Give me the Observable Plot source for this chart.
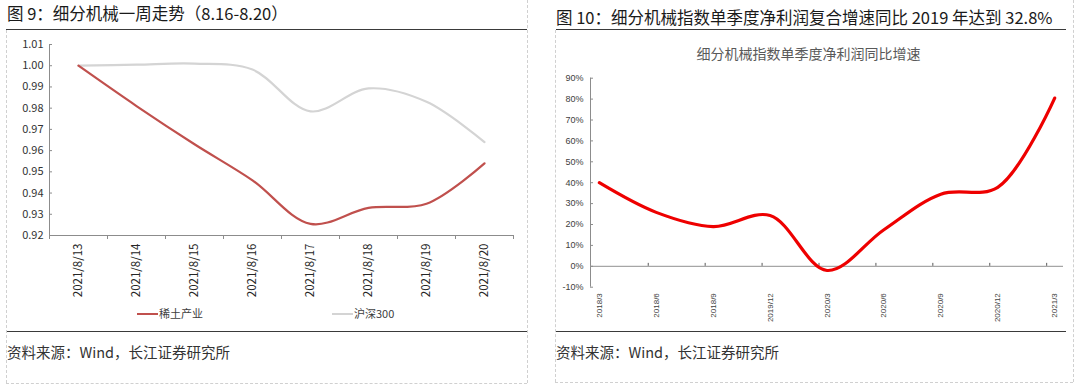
<!DOCTYPE html>
<html><head><meta charset="utf-8">
<script src="https://cdn.jsdelivr.net/npm/d3@7"></script>
<script src="https://cdn.jsdelivr.net/npm/@observablehq/plot@0.6"></script>
<style>
body{margin:0;width:1080px;height:385px;background:#fff;position:relative;overflow:hidden;font-family:"Noto Sans CJK SC","Noto Sans",sans-serif;}
.abs{position:absolute;}
.title{font-size:16.5px;color:#1a1a1a;white-space:nowrap;line-height:1;}
.rule{height:0;border-top:1.5px solid #3a3a3a;}
.vd{width:0;border-left:1px dashed #d0d0d0;}
.hd{height:0;border-top:1px dashed #d0d0d0;}
.src{font-size:14.5px;color:#333;white-space:nowrap;line-height:1;}
.leg{font-size:11px;color:#404040;white-space:nowrap;line-height:1;}
.sw{height:0;border-top:2px solid;}
svg{overflow:visible;}
</style></head><body>
<script>
// ---- Figure 9 data ----
const dates9 = ["2021/8/13","2021/8/14","2021/8/15","2021/8/16","2021/8/17","2021/8/18","2021/8/19","2021/8/20"];
const rareEarth = [1.000, 0.981, 0.963, 0.946, 0.9255, 0.933, 0.935, 0.954];
const hs300 = [1.000, 1.0005, 1.001, 0.9982, 0.9785, 0.9893, 0.983, 0.964];
const seriesNames9 = ["稀土产业", "沪深300"];
const yTicks9 = [0.92,0.93,0.94,0.95,0.96,0.97,0.98,0.99,1.00,1.01];

// ---- Figure 10 data ----
const quarters10 = ["2018/3","2018/6","2018/9","2019/12","2020/3","2020/6","2020/9","2020/12","2021/3"];
const profitGrowth = [40, 25.8, 19, 24.3, -2, 17.5, 34.5, 37.8, 80.5];
const yTicks10 = [-10,0,10,20,30,40,50,60,70,80,90];

const C_RED9 = "#c0504d", C_GRAY9 = "#d4d4d4", C_RED10 = "#ee0000";

function el(cls, css, html){const d=document.createElement("div");d.className="abs "+cls;Object.assign(d.style,css);if(html!=null)d.innerHTML=html;document.body.appendChild(d);return d;}

// ---------- Figure 9 ----------
el("title",{left:"7px",top:"5px"},"图 9：细分机械一周走势（8.16-8.20）");
el("rule",{left:"6px",top:"29px",width:"521px"});
el("rule",{left:"6px",top:"331px",width:"521px"});
el("src",{left:"7px",top:"345px"},"资料来源：Wind，长江证券研究所");
el("vd",{left:"6px",top:"30px",height:"353px"});
el("vd",{left:"527px",top:"0px",height:"383px"});
el("hd",{left:"6px",top:"383px",width:"521px"});

const idx9 = dates9.map((d,i)=>i);
const rows9 = [];
idx9.forEach(i=>rows9.push({i, v: rareEarth[i], s: seriesNames9[0]}));
idx9.forEach(i=>rows9.push({i, v: hs300[i], s: seriesNames9[1]}));
const xDom9 = [-0.5, dates9.length - 0.5];
const bounds9 = d3.range(xDom9[0], xDom9[1] + 0.01, 1);

const p9 = Plot.plot({
  width: 530, height: 270,
  marginLeft: 49, marginRight: 17, marginTop: 14, marginBottom: 65,
  style: {fontFamily: '"Noto Sans CJK SC","Noto Sans",sans-serif', background: "transparent"},
  x: {type: "linear", domain: xDom9},
  y: {domain: [yTicks9[0], yTicks9[yTicks9.length-1]]},
  marks: [
    Plot.ruleY([yTicks9[0]], {stroke: "#8c8c8c", strokeWidth: 1}),
    Plot.ruleX([xDom9[0]], {stroke: "#8c8c8c", strokeWidth: 1}),
    Plot.axisY({ticks: yTicks9, tickFormat: d3.format(".2f"), tickSize: -3, tickPadding: 9, fontSize: 11, fill: "#333", stroke: "#8c8c8c", label: null}),
    Plot.axisX({ticks: bounds9, tickSize: 4, text: null, stroke: "#8c8c8c", label: null}),
    Plot.axisX({ticks: idx9, tickSize: 0, tickPadding: 8, tickRotate: -90, tickFormat: i => dates9[i], fontSize: 11.5, fill: "#262626", label: null}),
    Plot.line(rows9.filter(d=>d.s===seriesNames9[1]), {x: "i", y: "v", stroke: C_GRAY9, strokeWidth: 2.2, curve: "catmull-rom"}),
    Plot.line(rows9.filter(d=>d.s===seriesNames9[0]), {x: "i", y: "v", stroke: C_RED9, strokeWidth: 2.2, curve: "catmull-rom"})
  ]
});
const w9 = el("",{left:"0px",top:"30px"}); w9.appendChild(p9);

el("sw",{left:"137px",top:"313px",width:"21px",borderColor:C_RED9});
el("leg",{left:"159px",top:"308px"},seriesNames9[0]);
el("sw",{left:"332px",top:"313px",width:"21px",borderColor:C_GRAY9});
el("leg",{left:"354px",top:"308px"},seriesNames9[1]);

// ---------- Figure 10 ----------
el("title",{left:"556px",top:"9px"},"图 10：细分机械指数单季度净利润复合增速同比 2019 年达到 32.8%");
el("rule",{left:"556px",top:"29px",width:"510px"});
el("rule",{left:"556px",top:"331px",width:"510px"});
el("src",{left:"556px",top:"345px"},"资料来源：Wind，长江证券研究所");
el("vd",{left:"555px",top:"30px",height:"352px"});
el("vd",{left:"1073px",top:"0px",height:"382px"});
el("hd",{left:"555px",top:"382px",width:"518px"});
el("",{left:"556px",top:"46px",width:"505px",textAlign:"center",fontSize:"14px",color:"#595959",lineHeight:"1",whiteSpace:"nowrap"},"细分机械指数单季度净利润同比增速");

const idx10 = quarters10.map((d,i)=>i);
const rows10 = idx10.map(i=>({i, v: profitGrowth[i]}));
const xDom10 = [-0.155, quarters10.length - 1 + 0.155];

const p10 = Plot.plot({
  width: 540, height: 270,
  marginLeft: 50, marginRight: 17, marginTop: 15.7, marginBottom: 45.3,
  style: {fontFamily: '"Liberation Sans","Noto Sans",sans-serif', background: "transparent"},
  x: {type: "linear", domain: xDom10},
  y: {domain: [yTicks10[0], yTicks10[yTicks10.length-1]]},
  marks: [
    Plot.ruleX([xDom10[0]], {stroke: "#8c8c8c", strokeWidth: 1}),
    Plot.ruleY([0], {stroke: "#a6a6a6", strokeWidth: 1.3}),
    Plot.ruleX(idx10.slice(1), {x: d => d, y1: 0, y2: 1.4, dx: -8, stroke: "#595959", strokeWidth: 1}),
    Plot.axisY({ticks: yTicks10, tickFormat: d => d + "%", tickSize: -3, tickPadding: 10, fontSize: 9, fill: "#404040", stroke: "#8c8c8c", label: null}),
    Plot.axisX({ticks: idx10, tickSize: 0, tickPadding: 6, tickRotate: -90, tickFormat: i => quarters10[i], fontSize: 8, fill: "#404040", label: null}),
    Plot.line(rows10, {x: "i", y: "v", stroke: C_RED10, strokeWidth: 3.2, curve: "catmull-rom"})
  ]
});
const w10 = el("",{left:"540px",top:"62px"}); w10.appendChild(p10);
</script>
</body></html>
